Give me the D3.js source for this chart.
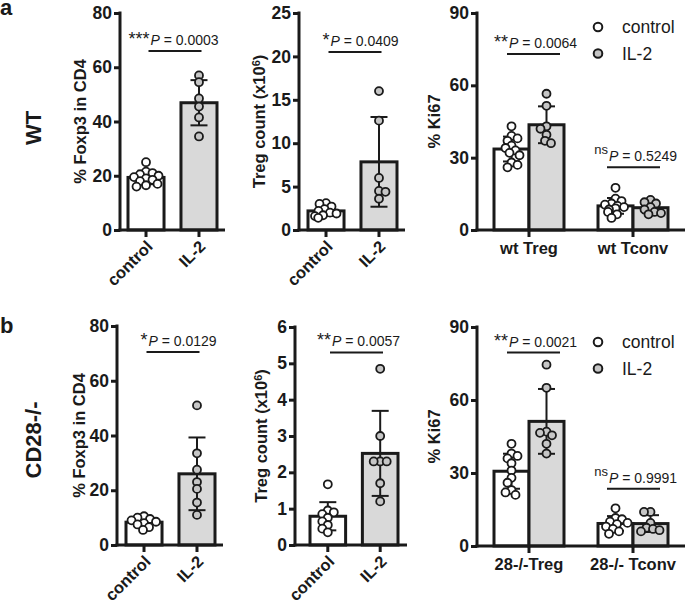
<!DOCTYPE html>
<html>
<head>
<meta charset="utf-8">
<script src="https://cdn.jsdelivr.net/npm/d3@7"></script>
<style>
body { margin: 0; background: #fff; }
svg text { font-family: "Liberation Sans", Arial, sans-serif; fill: #1a1a1a; }
</style>
</head>
<body>
<svg id="fig" width="685" height="604"></svg>
<script>
// groups and categories
var groups = ["control", "IL-2"];
var wtCells = ["wt Treg", "wt Tconv"];
var koCells = ["28-/-Treg", "28-/- Tconv"];

// tick labels
var foxp3Ticks = [0, 20, 40, 60, 80];
var wtTregTicks = [0, 5, 10, 15, 20, 25];
var koTregTicks = [0, 1, 2, 3, 4, 5, 6];
var ki67Ticks = [0, 30, 60, 90];

// row a (WT), one value per mouse
var wtFoxp3Control = [25, 21.5, 21, 20.5, 20, 19.5, 19, 18.5, 18, 17, 16.5, 16];
var wtFoxp3IL2 = [57, 54.5, 48.5, 45.5, 41.5, 34.5];
var wtTregControl = [3.1, 3.0, 2.7, 2.4, 2.2, 2.0, 1.9, 1.7, 1.6, 1.4];
var wtTregIL2 = [16, 12.6, 6.0, 4.5, 4.4, 3.6];
var wtKi67TregControl = [43, 39, 38, 37, 35, 34, 33, 32, 31, 28, 27, 26];
var wtKi67TregIL2 = [56.5, 51.5, 43, 42, 39.5, 37, 36];
var wtKi67TconvControl = [17.5, 13, 12, 11, 10.5, 10, 9.5, 9, 8.5, 7.5, 6.5, 5];
var wtKi67TconvIL2 = [12.5, 11.5, 11, 9.5, 8.5, 7.5, 7, 6.5];

// row b (CD28-/-)
var koFoxp3Control = [10.5, 10, 9.5, 9, 8.5, 8, 7.5, 6.5, 5.5];
var koFoxp3IL2 = [51, 33.5, 27.5, 23, 20.5, 15.5, 11];
var koTregControl = [1.67, 0.95, 0.9, 0.85, 0.75, 0.65, 0.55, 0.45, 0.35];
var koTregIL2 = [4.85, 3.0, 2.3, 2.3, 2.3, 1.7, 1.2];
var koKi67TregControl = [42, 38, 37, 36, 34, 31, 28, 26, 23, 22, 21];
var koKi67TregIL2 = [74.5, 65, 47, 46.5, 45.5, 42, 38];
var koKi67TconvControl = [15.5, 11.5, 11, 10, 9.5, 9, 8, 7, 6, 5];
var koKi67TconvIL2 = [14, 14, 9.5, 7.5, 7, 6.5, 6];

// significance marks
var wtStars = ["***", "*", "**", "ns"];
var wtP = ["0.0003", "0.0409", "0.0064", "0.5249"];
var koStars = ["*", "**", "**", "ns"];
var koP = ["0.0129", "0.0057", "0.0021", "0.9991"];

var ink = "#1a1a1a", barGrey = "#d9d9d9", dotGrey = "#c6c6c6";
var svg = d3.select("#fig");

// simple beeswarm: push points sideways until they stop overlapping
function dodge(vals, y, minD, maxOff) {
    var order = d3.range(vals.length).sort(function(a, b) { return vals[b] - vals[a]; });
    var placed = [], out = [];
    order.forEach(function(i, n) {
        var py = y(vals[i]), pick = null;
        var sgn = n % 2 ? -1 : 1;
        for (var s = 0; s <= maxOff && pick === null; s += 0.5) {
            [s * sgn, -s * sgn].forEach(function(off) {
                if (pick !== null) return;
                var ok = placed.every(function(p) {
                    var dx = p[0] - off, dy = p[1] - py;
                    return dx * dx + dy * dy >= minD * minD;
                });
                if (ok) pick = off;
            });
        }
        if (pick === null) pick = (n % 3 - 1) * maxOff * 0.6;
        placed.push([pick, py]);
        out[i] = pick;
    });
    return out;
}

function yAxis(g, y, ticks, x) {
    var ax = g.append("g").attr("transform", "translate(" + x + ",0)")
        .call(d3.axisLeft(y).tickValues(ticks).tickFormat(d3.format("d"))
            .tickSize(6).tickSizeOuter(0).tickPadding(2));
    ax.select(".domain").remove();
    ax.append("line").attr("y1", y.range()[0] + 1.5).attr("y2", y.range()[1] - 1.5)
        .attr("stroke", ink).attr("stroke-width", 3);
    ax.selectAll(".tick line").attr("stroke", ink).attr("stroke-width", 3);
    ax.selectAll(".tick text").style("font-size", "17.5px").style("font-weight", "bold");
}

function xAxis(g, band, y0, x0, x1, rotate) {
    var ax = g.append("g").attr("transform", "translate(0," + y0 + ")")
        .call(d3.axisBottom(band).tickSize(7).tickSizeOuter(0));
    ax.select(".domain").remove();
    ax.append("line").attr("x1", x0 - 1.5).attr("x2", x1).attr("stroke", ink).attr("stroke-width", 3);
    ax.selectAll(".tick line").attr("stroke", ink).attr("stroke-width", 3);
    var t = ax.selectAll(".tick text").style("font-size", "16.5px").style("font-weight", "bold");
    if (rotate) {
        t.attr("text-anchor", "end").attr("x", -7).attr("y", 12).attr("dy", "0.35em")
            .attr("transform", "rotate(-45)");
    } else {
        t.attr("y", 12).attr("dy", "0.75em");
    }
}

function yTitle(g, x, y, txt, sup) {
    var t = g.append("text").attr("transform", "translate(" + x + "," + y + ") rotate(-90)")
        .attr("text-anchor", "middle").attr("dy", "0.35em")
        .style("font-size", "16.5px").style("font-weight", "bold").text(txt);
    if (sup) {
        t.append("tspan").attr("dy", "-0.45em").style("font-size", "11px").text(sup);
        t.append("tspan").attr("dy", "0.3em").text(")");
    }
}

function sigMark(g, cx, ly, stars, p) {
    var left = cx - 26;
    g.append("line").attr("x1", left).attr("x2", left + 53).attr("y1", ly).attr("y2", ly)
        .attr("stroke", ink).attr("stroke-width", 2);
    var pt = g.append("text").attr("x", left + 2).attr("y", ly - 6).style("font-size", "14px");
    pt.append("tspan").style("font-style", "italic").text("P");
    pt.append("tspan").text(" = " + p);
    if (stars === "ns") {
        g.append("text").attr("x", left + 1).attr("y", ly - 13).attr("text-anchor", "end")
            .style("font-size", "13px").text("ns");
    } else {
        g.append("text").attr("x", left + 1).attr("y", ly - 6).attr("text-anchor", "end")
            .style("font-size", "18px").text(stars);
    }
}

function barGroup(g, vals, cx, bw, y, filled) {
    var m = d3.mean(vals), sd = d3.deviation(vals);
    g.append("rect").attr("x", cx - bw / 2).attr("width", bw)
        .attr("y", y(m)).attr("height", y(0) - y(m))
        .attr("fill", filled ? barGrey : "#fff").attr("stroke", ink).attr("stroke-width", 3);
    g.append("line").attr("x1", cx).attr("x2", cx).attr("y1", y(m + sd)).attr("y2", y(m - sd))
        .attr("stroke", ink).attr("stroke-width", 2);
    [m + sd, m - sd].forEach(function(v) {
        g.append("line").attr("x1", cx - 8.5).attr("x2", cx + 8.5).attr("y1", y(v)).attr("y2", y(v))
            .attr("stroke", ink).attr("stroke-width", 2);
    });
    var offs = dodge(vals, y, 6.2, bw / 2 - 5);
    g.selectAll(null).data(vals).enter().append("circle")
        .attr("cx", function(d, i) { return cx + offs[i]; })
        .attr("cy", function(d) { return y(d); })
        .attr("r", 4)
        .attr("fill", filled ? dotGrey : "#fff")
        .attr("stroke", ink).attr("stroke-width", 1.8);
}

// two-bar panel: control vs IL-2
function pairPanel(p) {
    var g = svg.append("g");
    var y = d3.scaleLinear().domain([0, p.max]).range(p.yPix);
    var x = d3.scaleBand().domain(groups).range(p.bars).paddingInner(0.32);
    var bw = x.bandwidth();
    barGroup(g, p.ctrl, x("control") + bw / 2, bw, y, false);
    barGroup(g, p.il2, x("IL-2") + bw / 2, bw, y, true);
    yAxis(g, y, p.ticks, p.axisX[0]);
    xAxis(g, x, p.yPix[0], p.axisX[0], p.axisX[1], true);
    yTitle(g, p.axisX[0] + p.titleDx, (p.yPix[0] + p.yPix[1]) / 2, p.title, p.sup);
    sigMark(g, (p.bars[0] + p.bars[1]) / 2 + 2, y(p.sigAt), p.stars, p.p);
}

// Ki67 panel: two cell types, control and IL-2 side by side
function ki67Panel(p) {
    var g = svg.append("g");
    var y = d3.scaleLinear().domain([0, 90]).range(p.yPix);
    var x = d3.scaleBand().domain(p.cells).range(p.bars).paddingInner(0.327);
    var sub = d3.scaleBand().domain(groups).range([0, x.bandwidth()]);
    var bw = sub.bandwidth();
    p.cells.forEach(function(c, i) {
        barGroup(g, p.data[i][0], x(c) + sub("control") + bw / 2, bw, y, false);
        barGroup(g, p.data[i][1], x(c) + sub("IL-2") + bw / 2, bw, y, true);
        sigMark(g, x(c) + x.bandwidth() / 2 + (i ? 0 : 4), y(p.sigAt[i]), p.stars[i], p.p[i]);
    });
    yAxis(g, y, ki67Ticks, p.axisX[0]);
    xAxis(g, x, p.yPix[0], p.axisX[0], p.axisX[1], false);
    yTitle(g, p.axisX[0] + p.titleDx, (p.yPix[0] + p.yPix[1]) / 2, "% Ki67");
    // legend
    groups.forEach(function(k, i) {
        var ly = p.legendY + i * 26.5;
        g.append("circle").attr("cx", 598).attr("cy", ly).attr("r", 4.3)
            .attr("fill", i ? dotGrey : "#fff").attr("stroke", ink).attr("stroke-width", 2);
        g.append("text").attr("x", 622).attr("y", ly).attr("dy", "0.36em")
            .style("font-size", "17.5px").text(k);
    });
}

pairPanel({ctrl: wtFoxp3Control, il2: wtFoxp3IL2, max: 80, ticks: foxp3Ticks,
    axisX: [120, 225], bars: [128, 217], yPix: [230, 13], title: "% Foxp3 in CD4", titleDx: -40,
    stars: wtStars[0], p: wtP[0], sigAt: 66});
pairPanel({ctrl: wtTregControl, il2: wtTregIL2, max: 25, ticks: wtTregTicks,
    axisX: [299, 405], bars: [308, 397], yPix: [230, 13], title: "Treg count (x10", sup: "6", titleDx: -40,
    stars: wtStars[1], p: wtP[1], sigAt: 20.5});
ki67Panel({cells: wtCells, data: [[wtKi67TregControl, wtKi67TregIL2], [wtKi67TconvControl, wtKi67TconvIL2]],
    axisX: [477, 685], bars: [494, 668], yPix: [230, 13], titleDx: -43,
    stars: wtStars.slice(2), p: wtP.slice(2), sigAt: [73, 26], legendY: 27});

pairPanel({ctrl: koFoxp3Control, il2: koFoxp3IL2, max: 80, ticks: foxp3Ticks,
    axisX: [117, 223], bars: [126, 215], yPix: [545, 326], title: "% Foxp3 in CD4", titleDx: -38,
    stars: koStars[0], p: koP[0], sigAt: 70.5});
pairPanel({ctrl: koTregControl, il2: koTregIL2, max: 6, ticks: koTregTicks,
    axisX: [295, 407], bars: [310, 398], yPix: [545, 327], title: "Treg count (x10", sup: "6", titleDx: -34,
    stars: koStars[1], p: koP[1], sigAt: 5.3});
ki67Panel({cells: koCells, data: [[koKi67TregControl, koKi67TregIL2], [koKi67TconvControl, koKi67TconvIL2]],
    axisX: [477, 685], bars: [494, 668], yPix: [546, 327], titleDx: -43,
    stars: koStars.slice(2), p: koP.slice(2), sigAt: [79.5, 23.5], legendY: 342});

// row labels and panel letters
[["WT", 128], ["CD28-/-", 440]].forEach(function(r) {
    svg.append("text").attr("transform", "translate(33," + r[1] + ") rotate(-90)")
        .attr("text-anchor", "middle").attr("dy", "0.35em")
        .style("font-size", "22px").style("font-weight", "bold").text(r[0]);
});
[["a", 15], ["b", 333]].forEach(function(r) {
    svg.append("text").attr("x", 0).attr("y", r[1])
        .style("font-size", "22px").style("font-weight", "bold").text(r[0]);
});
</script>
</body>
</html>
